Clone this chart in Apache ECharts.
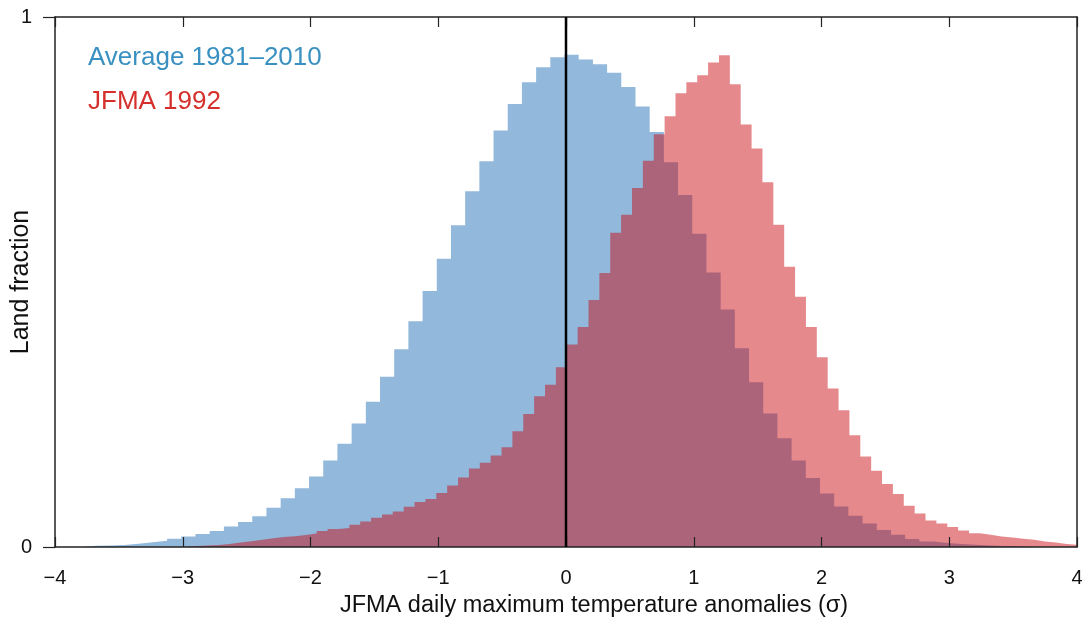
<!DOCTYPE html>
<html>
<head>
<meta charset="utf-8">
<script src="https://cdn.jsdelivr.net/npm/echarts@6/dist/echarts.min.js"></script>
<style>html,body{margin:0;padding:0;background:#fff;}#c{width:1087px;height:636px;}</style>
</head>
<body>
<div id="c"></div>
<script>
// Bin layout (in sigma units)
const blueStart = -3.789;
const blueWidth = 0.1111;
const redStart = -2.9725;
const redWidth = 0.0851;

// Average 1981–2010 histogram heights (land fraction)
const blueValues = [
  0.0025, 0.003, 0.004, 0.006, 0.0088, 0.012, 0.0158, 0.020, 0.0245, 0.030,
  0.0385, 0.047, 0.058, 0.074, 0.092, 0.111, 0.133, 0.163, 0.195, 0.233,
  0.274, 0.321, 0.373, 0.426, 0.483, 0.544, 0.607, 0.671, 0.728, 0.786,
  0.836, 0.877, 0.905, 0.924, 0.929, 0.920, 0.911, 0.895, 0.868, 0.831,
  0.783, 0.726, 0.664, 0.591, 0.518, 0.448, 0.375, 0.311, 0.252, 0.205,
  0.163, 0.130, 0.101, 0.0765, 0.059, 0.0445, 0.032, 0.023, 0.015, 0.0106,
  0.0075, 0.0057, 0.0043, 0.003, 0.002, 0.0015, 0.001
];

// JFMA 1992 histogram heights (land fraction)
const redValues = [
  0.002, 0.003, 0.004, 0.0057, 0.0085, 0.011, 0.0135, 0.0165, 0.019, 0.0205,
  0.0226, 0.0257, 0.030, 0.034, 0.0357, 0.042, 0.048, 0.055, 0.0615, 0.067,
  0.076, 0.0848, 0.0904, 0.1017, 0.116, 0.131, 0.148, 0.159, 0.1726, 0.188,
  0.2185, 0.251, 0.2845, 0.306, 0.339, 0.382, 0.415, 0.466, 0.517, 0.593,
  0.627, 0.6775, 0.729, 0.779, 0.8126, 0.856, 0.877, 0.890, 0.914, 0.928,
  0.873, 0.797, 0.752, 0.688, 0.608, 0.529, 0.472, 0.415, 0.358, 0.299,
  0.258, 0.211, 0.1707, 0.1437, 0.1187, 0.100, 0.078, 0.063, 0.050, 0.0445,
  0.0377, 0.031, 0.026, 0.023, 0.020, 0.018, 0.0156, 0.0138, 0.0106, 0.0087,
  0.0057, 0.0043
];

const xTicks = [-4, -3, -2, -1, 0, 1, 2, 3, 4];
const yTicks = [0, 1];
const seriesNames = ['Average 1981\u20132010', 'JFMA 1992'];
const xTitle = 'JFMA daily maximum temperature anomalies (\u03c3)';
const yTitle = 'Land fraction';

// Build a step outline: start at baseline, one point per bin left edge, close at last right edge.
function stepPoints(start, width, vals) {
  const pts = [[start, 0]];
  vals.forEach((h, i) => pts.push([start + i * width, h]));
  const end = start + vals.length * width;
  pts.push([end, vals[vals.length - 1]]);
  pts.push([end, 0]);
  return pts;
}

const FONT = '"Liberation Sans", Arial, Helvetica, sans-serif';
const chart = echarts.init(document.getElementById('c'), null, { renderer: 'canvas' });
const fmtMinus = v => (v < 0 ? '\u2212' + Math.abs(v) : String(v));
const AX = '#222';

function histSeries(name, pts, fill, z) {
  return {
    name: name, type: 'line', xAxisIndex: 0, yAxisIndex: 0, z: z,
    step: 'end', symbol: 'none', silent: true, clip: true,
    lineStyle: { width: 0, opacity: 0 },
    areaStyle: { color: fill, opacity: 1, origin: 'start' },
    data: pts
  };
}

chart.setOption({
  animation: false,
  backgroundColor: '#ffffff',
  grid: { left: 55, right: 10, top: 17, bottom: 89, containLabel: false, outerBoundsMode: 'none' },
  xAxis: [{
    type: 'value', min: xTicks[0], max: xTicks[xTicks.length - 1], interval: 1,
    position: 'bottom', z: 10,
    axisLine: { show: true, onZero: false, lineStyle: { color: AX, width: 1.5 } },
    axisTick: { show: true, inside: true, length: 10, lineStyle: { color: AX, width: 1.2 } },
    axisLabel: { formatter: fmtMinus, fontSize: 20, color: '#111', fontFamily: FONT, margin: 21 },
    splitLine: { show: false },
    name: xTitle, nameLocation: 'middle', nameGap: 47, nameMoveOverlap: false,
    nameTextStyle: { fontSize: 23.5, color: '#111', fontFamily: FONT, padding: [0, 0, 0, 56] }
  }, {
    type: 'value', min: xTicks[0], max: xTicks[xTicks.length - 1], interval: 1,
    position: 'top', z: 10,
    axisLine: { show: true, onZero: false, lineStyle: { color: AX, width: 1.5 } },
    axisTick: { show: true, inside: true, length: 10, lineStyle: { color: AX, width: 1.2 } },
    axisLabel: { show: false }, splitLine: { show: false }
  }],
  yAxis: [{
    type: 'value', min: yTicks[0], max: yTicks[yTicks.length - 1], interval: 1,
    position: 'left', z: 10,
    axisLine: { show: true, onZero: false, lineStyle: { color: AX, width: 1.5 } },
    axisTick: { show: true, inside: false, length: 12, lineStyle: { color: AX, width: 1.2 } },
    axisLabel: { fontSize: 20, color: '#111', fontFamily: FONT, margin: 23 },
    splitLine: { show: false },
    name: yTitle, nameLocation: 'middle', nameGap: 21, nameRotate: 90, nameMoveOverlap: false,
    nameTextStyle: { fontSize: 25, color: '#111', fontFamily: FONT }
  }, {
    type: 'value', min: yTicks[0], max: yTicks[yTicks.length - 1], interval: 1,
    position: 'right', z: 10,
    axisLine: { show: true, onZero: false, lineStyle: { color: AX, width: 1.5 } },
    axisTick: { show: false }, axisLabel: { show: false }, splitLine: { show: false }
  }],
  series: [
    histSeries(seriesNames[0], stepPoints(blueStart, blueWidth, blueValues), '#92b8dc', 2),
    histSeries(seriesNames[1], stepPoints(redStart, redWidth, redValues), 'rgba(200,8,16,0.48)', 3),
    {
      name: 'zero', type: 'line', xAxisIndex: 0, yAxisIndex: 0, z: 12,
      symbol: 'none', silent: true,
      lineStyle: { color: '#000', width: 2.5 },
      data: [[0, yTicks[0]], [0, yTicks[1]]]
    }
  ],
  graphic: [{
    type: 'text', left: 88, top: 45, z: 20,
    style: { text: seriesNames[0], fill: '#3a91c1', font: '26px ' + FONT }
  }, {
    type: 'text', left: 88, top: 89, z: 20,
    style: { text: seriesNames[1], fill: '#d5302b', font: '26px ' + FONT }
  }]
});
</script>
</body>
</html>
